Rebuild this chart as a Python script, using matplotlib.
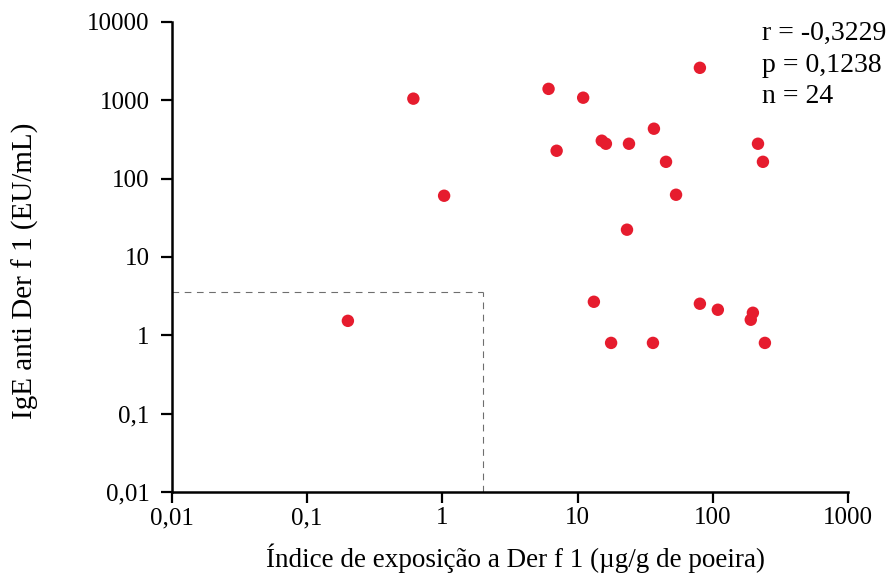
import matplotlib
matplotlib.use("Agg")
import matplotlib.pyplot as plt

# exposure index (µg/g dust) vs anti-Der f 1 IgE (EU/mL), one point per subject
exposicao = [0.20, 0.61, 1.03, 6.1, 7.0, 11.0, 15.1, 16.2, 24.0, 23.2, 36.7, 45.1,
             53.5, 80.3, 216, 235, 13.2, 17.7, 36.1, 80.3, 109, 198, 191, 243]
ige = [1.53, 1050, 60.5, 1400, 227, 1080, 305, 279, 279, 22.3, 434, 164,
       62.3, 2600, 279, 164, 2.68, 0.80, 0.80, 2.53, 2.12, 1.94, 1.58, 0.80]

x_ticks = [0.01, 0.1, 1, 10, 100, 1000]
x_labels = ["0,01", "0,1", "1", "10", "100", "1000"]
y_ticks = [0.01, 0.1, 1, 10, 100, 1000, 10000]
y_labels = ["0,01", "0,1", "1", "10", "100", "1000", "10000"]

# cut-off box drawn with dashed lines
corte_x = 2.0
corte_y = 3.6

stats = ["r = -0,3229", "p = 0,1238", "n = 24"]

plt.rcParams["font.family"] = ["Liberation Serif", "DejaVu Serif"]

fig = plt.figure(figsize=(8.87, 5.74), dpi=100)
ax = fig.add_axes([0.1939, 0.1429, 0.7621, 0.8188])

ax.scatter(exposicao, ige, s=80, color="#e61c2e", edgecolors="none", zorder=3)

ax.plot([0.01, corte_x], [corte_y, corte_y], color="#6e6e6e", lw=0.8,
        dashes=(6, 5), zorder=2)
ax.plot([corte_x, corte_x], [0.01, corte_y], color="#6e6e6e", lw=0.8,
        dashes=(6, 5), zorder=2)

ax.set_xscale("log")
ax.set_yscale("log")
ax.set_xlim(0.01, 1000)
ax.set_ylim(0.01, 10000)
ax.set_xticks(x_ticks)
ax.set_xticklabels(x_labels)
ax.set_yticks(y_ticks)
ax.set_yticklabels(y_labels)
ax.minorticks_off()

for side in ("top", "right"):
    ax.spines[side].set_visible(False)
for side in ("left", "bottom"):
    ax.spines[side].set_linewidth(1.8)
ax.tick_params(axis="both", direction="out", length=8, width=1.6,
               labelsize=18)
ax.tick_params(axis="x", pad=3)
ax.tick_params(axis="y", pad=8)

fig.text(0.5817, 0.0122, "Índice de exposição a Der f 1 (µg/g de poeira)",
         fontsize=19.5, ha="center", va="baseline")
fig.text(0.0282, 0.528, "IgE anti Der f 1 (EU/mL)", fontsize=21,
         rotation=90, ha="center", va="center")

for texto, base in zip(stats, [0.9303, 0.8746, 0.8206]):
    fig.text(0.859, base, texto, fontsize=20, ha="left", va="baseline")

fig.savefig("out.png", dpi=100)
